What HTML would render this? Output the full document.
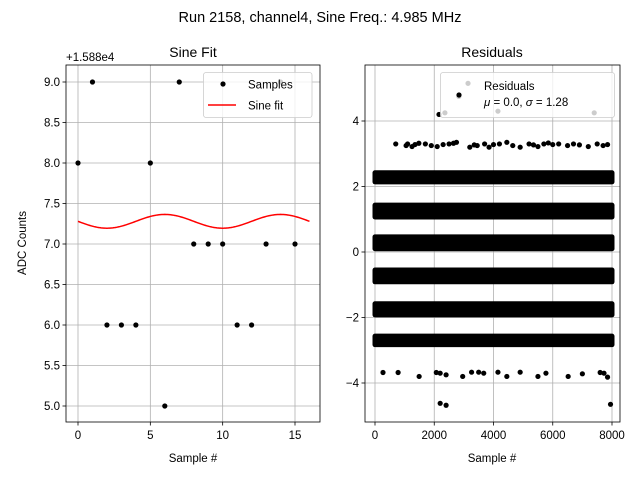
<!DOCTYPE html>
<html><head><meta charset="utf-8"><style>
body{margin:0;background:#fff}
svg text{font-family:"Liberation Sans","DejaVu Sans",sans-serif;fill:#000}
</style></head><body>
<svg id="fig" width="640" height="480" viewBox="0 0 640 480" xmlns="http://www.w3.org/2000/svg">
<rect width="640" height="480" fill="#fff"/>
<text x="320" y="22" font-size="14.5" text-anchor="middle">Run 2158, channel4, Sine Freq.: 4.985 MHz</text>
<g id="left"></g>
<g id="right"></g>
</svg>
<script>
const sampleIdx=[0,1,2,3,4,5,6,7,8,9,10,11,12,13,14,15];
const sampleVals=[8,9,6,6,6,8,5,9,7,7,7,6,6,7,9,7];
const fitParams=[7.28,0.085,8.0,4.0]; // offset, amplitude, period, phase shift
const leftXTicks=[0,5,10,15];
const leftYTicks=[5.0,5.5,6.0,6.5,7.0,7.5,8.0,8.5,9.0];
const bandLevels=[2.28,1.25,0.28,-0.73,-1.75,-2.7];
const bandHalfWidth=[0.14,0.18,0.18,0.18,0.17,0.13];
const outX=[700,1050,1100,1250,1350,1480,1700,1900,2100,2300,2500,2650,2750,3200,3350,3450,3700,3850,4000,4200,4450,4650,4900,5200,5350,5500,5700,5850,6000,6200,6500,6700,6900,7200,7500,7700,7850];
const outY=[3.3,3.25,3.3,3.22,3.28,3.32,3.3,3.25,3.22,3.28,3.3,3.32,3.35,3.2,3.27,3.25,3.3,3.2,3.28,3.3,3.35,3.25,3.2,3.3,3.27,3.22,3.3,3.33,3.28,3.3,3.25,3.3,3.27,3.22,3.3,3.25,3.28];
const outX2=[270,780,1490,2070,2200,2400,2960,3260,3500,3670,4150,4450,4900,5500,5770,6520,7000,7600,7730,7850,2200,2400,7950,2160,2830,2360,4150,7400,3140];
const outY2=[-3.68,-3.68,-3.8,-3.68,-3.7,-3.75,-3.8,-3.67,-3.67,-3.7,-3.67,-3.8,-3.67,-3.8,-3.7,-3.8,-3.72,-3.68,-3.7,-3.82,-4.62,-4.68,-4.65,4.2,4.75,4.25,4.3,4.25,5.15];
const rightXTicks=[0,2000,4000,6000,8000];
const rightYTicks=[-4,-2,0,2,4];

const NS="http://www.w3.org/2000/svg";
function mk(p,t,a){const e=document.createElementNS(NS,t);for(const k in a)e.setAttribute(k,a[k]);p.appendChild(e);return e;}
function fmt(v,d){return v.toFixed(d);}

// ---- left panel
const L=document.getElementById('left');
const lx=v=>78+(v)*(295-78)/15, ly=v=>406-(v-5)*(406-82)/4;
const lb={x0:66,x1:320,y0:65,y1:422};
for(const t of leftXTicks){const g=mk(L,'line',{x1:lx(t),x2:lx(t),y1:lb.y0,y2:lb.y1,stroke:'#b0b0b0','stroke-width':0.8});}
for(const t of leftYTicks){const g=mk(L,'line',{x1:lb.x0,x2:lb.x1,y1:ly(t),y2:ly(t),stroke:'#b0b0b0','stroke-width':0.8});}
let d='';for(let i=0;i<=160;i++){const x=i/10;const y=fitParams[0]+fitParams[1]*Math.sin(2*Math.PI*(x-fitParams[3])/fitParams[2]);d+=(i?'L':'M')+lx(x).toFixed(2)+' '+ly(y).toFixed(2);}
const fl=mk(L,'path',{d:d,fill:'none',stroke:'#ff0000','stroke-width':1.5});


sampleIdx.forEach((x,i)=>{const c=mk(L,'circle',{cx:lx(x),cy:ly(sampleVals[i]),r:2.6,fill:'#000'});});
mk(L,'rect',{x:lb.x0,y:lb.y0,width:lb.x1-lb.x0,height:lb.y1-lb.y0,fill:'none',stroke:'#000','stroke-width':0.8});
for(const t of leftXTicks){mk(L,'line',{x1:lx(t),x2:lx(t),y1:lb.y1,y2:lb.y1+3.5,stroke:'#000','stroke-width':0.8});const tx=mk(L,'text',{x:lx(t),y:lb.y1+17,'font-size':11.5,'text-anchor':'middle'});tx.textContent=t;}
for(const t of leftYTicks){mk(L,'line',{x1:lb.x0-3.5,x2:lb.x0,y1:ly(t),y2:ly(t),stroke:'#000','stroke-width':0.8});const tx=mk(L,'text',{x:lb.x0-6,y:ly(t)+4,'font-size':11.5,'text-anchor':'end'});tx.textContent=fmt(t,1);}
let e=mk(L,'text',{x:66,y:61,'font-size':11.5});e.textContent='+1.588e4';
e=mk(L,'text',{x:193,y:57,'font-size':14,'text-anchor':'middle'});e.textContent='Sine Fit';
e=mk(L,'text',{x:193,y:462,'font-size':11.5,'text-anchor':'middle'});e.textContent='Sample #';
e=mk(L,'text',{x:0,y:0,'font-size':11.5,'text-anchor':'middle',transform:'translate(26,243) rotate(-90)'});e.textContent='ADC Counts';
const lg=mk(L,'g',{});
mk(lg,'rect',{x:203.5,y:72.5,width:108.5,height:45,rx:2.5,fill:'#fff','fill-opacity':0.8,stroke:'#ccc','stroke-width':0.8});
mk(lg,'circle',{cx:223,cy:84,r:2.6,fill:'#000'});
e=mk(lg,'text',{x:248,y:88.5,'font-size':11.5});e.textContent='Samples';
mk(lg,'line',{x1:208,x2:236,y1:105,y2:105,stroke:'#ff0000','stroke-width':1.5});
e=mk(lg,'text',{x:248,y:109.5,'font-size':11.5});e.textContent='Sine fit';

// ---- right panel
const R=document.getElementById('right');
const rb={x0:365,x1:620,y0:65,y1:422};
const rx=v=>375+v*(612-375)/8000, ry=v=>252-v*(252-121)/4;
for(const t of rightXTicks){mk(R,'line',{x1:rx(t),x2:rx(t),y1:rb.y0,y2:rb.y1,stroke:'#b0b0b0','stroke-width':0.8});}
for(const t of rightYTicks){mk(R,'line',{x1:rb.x0,x2:rb.x1,y1:ry(t),y2:ry(t),stroke:'#b0b0b0','stroke-width':0.8});}
bandLevels.forEach((b,i)=>{const h=ry(b-bandHalfWidth[i])-ry(b+bandHalfWidth[i]);const r=mk(R,'rect',{x:rx(0)-2.5,y:ry(b+bandHalfWidth[i])-2.5,width:rx(8000)-rx(0)+5,height:h+5,rx:2.5,fill:'#000'});});
outX.forEach((x,i)=>{const c=mk(R,'circle',{cx:rx(x),cy:ry(outY[i]),r:2.6,fill:'#000'});});
outX2.forEach((x,i)=>{const c=mk(R,'circle',{cx:rx(x),cy:ry(outY2[i]),r:2.6,fill:'#000'});});
mk(R,'rect',{x:rb.x0,y:rb.y0,width:rb.x1-rb.x0,height:rb.y1-rb.y0,fill:'none',stroke:'#000','stroke-width':0.8});
for(const t of rightXTicks){mk(R,'line',{x1:rx(t),x2:rx(t),y1:rb.y1,y2:rb.y1+3.5,stroke:'#000','stroke-width':0.8});const tx=mk(R,'text',{x:rx(t),y:rb.y1+17,'font-size':11.5,'text-anchor':'middle'});tx.textContent=t;}
for(const t of rightYTicks){mk(R,'line',{x1:rb.x0-3.5,x2:rb.x0,y1:ry(t),y2:ry(t),stroke:'#000','stroke-width':0.8});const tx=mk(R,'text',{x:rb.x0-6,y:ry(t)+4,'font-size':11.5,'text-anchor':'end'});tx.textContent=t<0?'\u2212'+(-t):t;}
e=mk(R,'text',{x:492,y:57,'font-size':14,'text-anchor':'middle'});e.textContent='Residuals';
e=mk(R,'text',{x:492,y:462,'font-size':11.5,'text-anchor':'middle'});e.textContent='Sample #';
const rg=mk(R,'g',{});
mk(rg,'rect',{x:440.5,y:72.5,width:174,height:45,rx:2.5,fill:'#fff','fill-opacity':0.8,stroke:'#ccc','stroke-width':0.8});
mk(rg,'circle',{cx:459,cy:95,r:2.6,fill:'#000'});
e=mk(rg,'text',{x:484,y:90,'font-size':11.5});e.textContent='Residuals';
e=mk(rg,'text',{x:484,y:106,'font-size':11.5});e.innerHTML='<tspan font-style="italic">μ</tspan> = 0.0, <tspan font-style="italic">σ</tspan> = 1.28';
</script>
</body></html>
